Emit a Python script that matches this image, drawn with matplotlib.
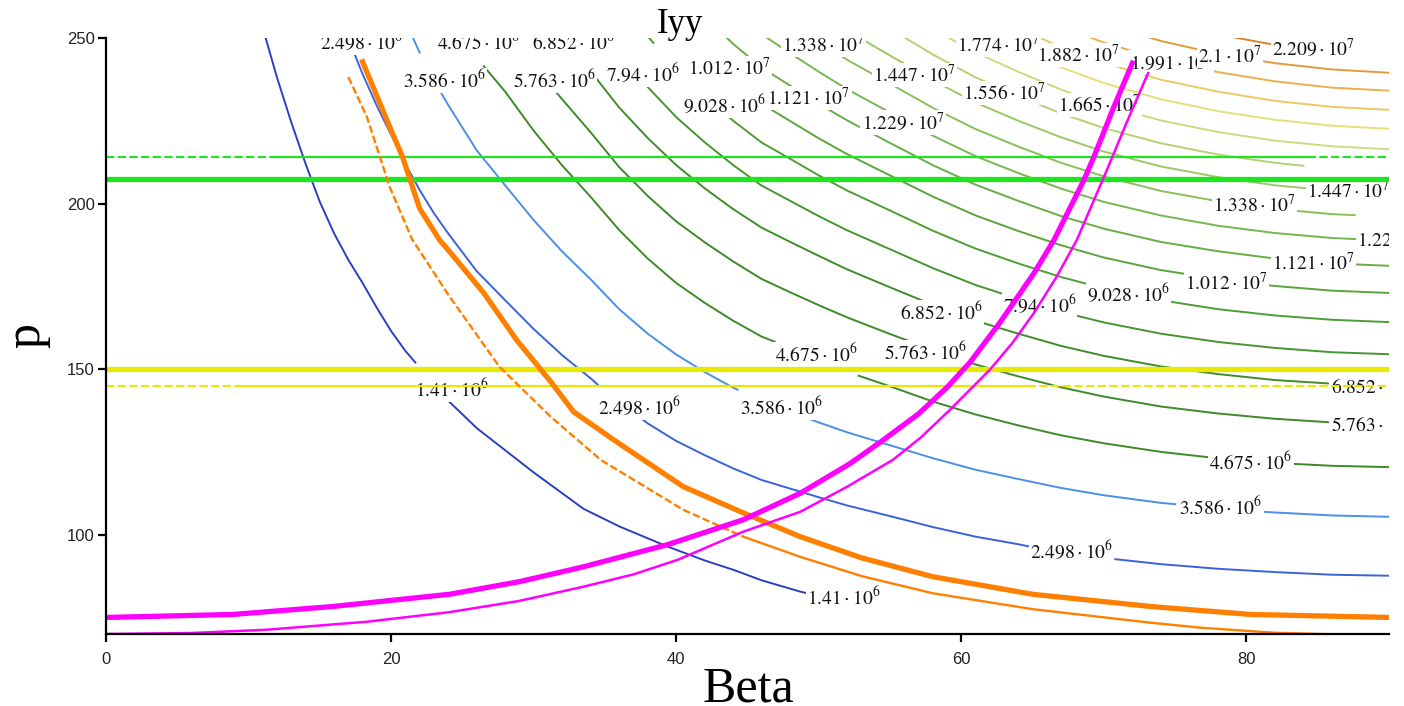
import numpy as np
import matplotlib
matplotlib.use("Agg")
import matplotlib.pyplot as plt

plt.rcParams['mathtext.fontset'] = 'stix'
nan = np.nan

# ---------------- contour levels of Iyy ----------------
levels = [1.41e6, 2.498e6, 3.586e6, 4.675e6, 5.763e6, 6.852e6, 7.94e6, 9.028e6,
          1.012e7, 1.121e7, 1.229e7, 1.338e7, 1.447e7, 1.556e7, 1.665e7, 1.774e7,
          1.882e7, 1.991e7, 2.1e7, 2.209e7]
level_colors = ['#2b3fc4', '#3a63d9', '#4b8fe6', '#3d8a27', '#3d8a27', '#3f8d2a',
                '#46952f', '#4f9d35', '#5aa53c', '#66ae45', '#76b74f', '#88c05a',
                '#9ac965', '#b2d373', '#cadd7e', '#e4df78', '#ecc862', '#ebb04c',
                '#e49a3a', '#d8862c']

# contour paths (Beta, p); nan = break in the line at a label
c01_beta = [11.0, 12.0, 13.0, 14.0, 15.0, 16.0, 17.0, 18.0, 19.0, 20.0, 21.0, 21.7, nan, 24.0, 26.0, 28.0, 30.0, 33.5, 36.0, 39.4, 42.0, 44.0, 46.0, 48.7, 49.5]
c01_p = [253, 238, 224.5, 212, 200.5, 191, 183, 176, 168.5, 161.5, 155.5, 152.0, nan, 140.5, 132.2, 125.5, 118.8, 107.8, 102.5, 96.4, 92.2, 89.4, 86.2, 82.8, 82.0]
c02_beta = [16.8, 18, 19, 20, 21, 22, 23, 24, 26, 28, 30, 32, 34, 34.5, nan, 37.5, 38, 40, 42, 44, 46, 48, 50, 52, 55, 58, 61, 64, 64.8, nan, 70.8, 74, 78, 82, 86, 90]
c02_p = [252, 239.1, 229.5, 220.8, 212, 204.1, 197.1, 191, 179.6, 170.8, 162.1, 154.2, 147.2, 145.3, nan, 135.3, 133.6, 128.3, 124, 120, 116.5, 113.9, 111.3, 108.8, 105.6, 102.3, 99.4, 97.1, 96.4, nan, 92.6, 91.1, 89.7, 88.7, 87.9, 87.6]
c03_beta = [21, 22, nan, 23.3, 24, 26, 28, 30, 32, 34, 36, 38, 40, 42, 44, 44.3, nan, 47.8, 50, 52, 55, 58, 61, 64, 67, 70, 74, 75, nan, 81.2, 82, 86, 90]
c03_p = [255.1, 245.6, nan, 235.0, 229.8, 216.1, 205.5, 195, 185.5, 177.1, 168.1, 160.7, 154.4, 149.1, 144.4, 143.8, nan, 137.3, 133.9, 130.9, 127, 123.1, 119.6, 116.8, 114.1, 111.9, 109.6, 109.2, nan, 106.9, 106.7, 105.8, 105.4]
c04_beta = [26.5, 28, 30, 32, 34, 36, 38, 40, 42, 44, 46, 46.9, nan, 52.8, 55, 58, 61, 64, 67, 70, 74, 77.3, nan, 83.2, 86, 90]
c04_p = [241.5, 233.8, 222, 211.5, 202, 192, 183.4, 176, 170, 164.6, 159.8, 158.3, nan, 148.0, 144.8, 140.2, 136.3, 133, 130, 127.6, 125, 123.4, nan, 121.4, 120.8, 120.4]
c05_beta = [31.2, 32, 34, 36, 38, 40, 42, 44, 46, 48, 50, 52, 55, 58, 61, 64, 67, 70, 74, 78, 82, 86, 90]
c05_p = [235.5, 231.5, 221.5, 211, 202.3, 194.6, 188.3, 182.5, 177.2, 173.2, 169.3, 165.6, 160.6, 155.8, 151.4, 147.8, 144.5, 141.7, 138.7, 136.6, 135, 133.9, 133.4]
c06_beta = [34.3, 36, 38, 40, 42, 44, 46, 48, 50, 52, 55, 58, 61, 64, 67, 70, 74, 78, 82, 86, 90]
c06_p = [238.3, 229, 219.8, 211.6, 204.6, 198.3, 192.7, 188.4, 184.2, 180.1, 174.7, 169.4, 164.6, 160.7, 157, 154, 150.8, 148.5, 146.7, 145.6, 145]
c07_beta = [37.6, 38, 40, 42, 44, 46, 48, 50, 52, 55, 58, 61, 64, 67, 70, 74, 78, 82, 86, 90]
c07_p = [237.3, 235.2, 226.1, 218.5, 211.6, 205.4, 200.8, 196.2, 191.9, 186.2, 180.5, 175.4, 171.2, 167.3, 164.1, 160.7, 158.2, 156.4, 155.1, 154.5]
c08_beta = [37.5, 38.4, nan, 43.3, 44, 46, 48, 50, 52, 55, 58, 61, 64, 67, 70, 74, 78, 82, 86, 90]
c08_p = [253, 248.5, nan, 227.6, 225, 218.4, 213.5, 208.5, 203.9, 197.9, 191.8, 186.4, 181.9, 177.8, 174.4, 170.8, 168.1, 166.2, 164.9, 164.2]
c09_beta = [39.5, 40, 40.8, nan, 46.2, 48, 50, 52, 55, 58, 61, 64, 67, 70, 74, 78, 82, 86, 90]
c09_p = [256, 253.4, 250.0, nan, 229.6, 224.9, 219.7, 214.9, 208.5, 202.1, 196.4, 191.7, 187.4, 183.7, 179.9, 177.2, 175.1, 173.7, 173]
c10_beta = [42, 44, 46, 48, 50, 52, 55, 58, 61, 64, 67, 70, 74, 78, 82, 86, 90]
c10_p = [256.4, 248.2, 241, 235.6, 230.1, 225.1, 218.3, 211.6, 205.7, 200.8, 196.2, 192.4, 188.4, 185.6, 183.4, 181.9, 181.2]
c11_beta = [45, 46, 48, 50, 52, 55, 58, 61, 64, 67, 70, 74, 78, 82, 86, 90]
c11_p = [255, 251.1, 245.4, 239.8, 234.5, 227.5, 220.5, 214.3, 209.2, 204.5, 200.5, 196.4, 193.3, 191.1, 189.6, 188.8]
c12_beta = [47, 48, 50, 52, 55, 58, 61, 64, 67, 70, 74, 78, 82, 86, 87.6]
c12_p = [258, 254.8, 248.9, 243.4, 236.2, 228.9, 222.5, 217.2, 212.3, 208.2, 203.8, 200.7, 198.4, 196.8, 196.5]
c13_beta = [50, 52, 55, 58, 61, 64, 67, 70, 74, 78, 82, 86, 90]
c13_p = [257.9, 252.2, 244.7, 237.2, 230.5, 225, 220, 215.7, 211.2, 208, 205.5, 203.9, 203.1]
c14_beta = [53, 55, 58, 61, 64, 67, 70, 74, 78, 82, 84]
c14_p = [258, 252.8, 245, 238.1, 232.5, 227.2, 222.8, 218.2, 214.8, 212.3, 211.4]
c15_beta = [56, 58, 61, 64, 67, 70, 74, 78, 82, 86, 90]
c15_p = [257.5, 252.7, 245.6, 239.8, 234.4, 229.8, 225.1, 221.6, 219, 217.3, 216.4]
c16_beta = [59, 61, 64, 67, 70, 74, 78, 82, 86, 90]
c16_p = [257.5, 252.7, 246.6, 241.1, 236.4, 231.5, 227.9, 225.3, 223.5, 222.6]
c17_beta = [62, 64, 67, 70, 74, 78, 82, 86, 90]
c17_p = [256.5, 253, 247.2, 242.5, 237.4, 233.8, 231, 229.2, 228.3]
c18_beta = [65, 67, 70, 74, 78, 82, 86, 90]
c18_p = [257, 253.5, 248.6, 243.5, 239.7, 236.9, 235, 234.1]
c19_beta = [68, 70, 74, 78, 82, 86, 90]
c19_p = [257.5, 254.3, 249.1, 245.2, 242.4, 240.5, 239.5]
c20_beta = [79, 82, 86]
c20_p = [250.3, 247.9, 246]

# contour labels (level, Beta of left edge, p of baseline)
label_level = [2.498e6, 4.675e6, 6.852e6, 1.338e7, 1.774e7, 1.882e7, 1.991e7, 2.1e7, 2.209e7,
               3.586e6, 5.763e6, 7.94e6, 1.012e7, 9.028e6, 1.121e7, 1.447e7, 1.229e7, 1.556e7, 1.665e7,
               1.41e6, 2.498e6, 3.586e6, 4.675e6, 5.763e6, 6.852e6, 7.94e6, 9.028e6, 1.012e7, 1.121e7,
               1.229e7, 1.338e7, 1.447e7,
               6.852e6, 5.763e6, 4.675e6, 3.586e6, 2.498e6, 1.41e6]
label_beta = [15.0, 23.2, 29.9, 47.4, 59.7, 65.3, 71.8, 76.6, 81.8,
              20.8, 28.55, 35.1, 40.8, 40.5, 46.4, 53.8, 53.0, 60.1, 66.8,
              21.7, 34.5, 44.5, 46.9, 54.6, 55.7, 62.9, 68.8, 75.7, 81.8,
              87.75, 77.65, 84.25,
              85.9, 85.9, 77.4, 75.3, 64.8, 49.2]
label_p = [246.4, 246.4, 246.4, 245.8, 245.8, 242.8, 240.3, 242.5, 244.6,
           234.9, 234.9, 236.7, 238.8, 227.4, 229.8, 236.7, 222.2, 231.3, 227.7,
           141.7, 136.2, 136.2, 152.2, 152.8, 164.9, 167.0, 170.3, 173.9, 180.0,
           186.9, 197.5, 201.7,
           142.6, 131.1, 119.6, 106.0, 92.8, 78.9]

# ---------------- overlay curves ----------------
thick_orange_beta = [18.0, 19.9, 20.8, 21.5, 22.0, 23.4, 24.1, 26.5, 28.8, 31.2, 32.8, 35.9, 37.7, 40.5, 44.7, 48.7, 53.0, 58.0, 65.0, 73.3, 80.3, 90.0]
thick_orange_p = [242.8, 223.2, 214.1, 205.0, 198.5, 189.0, 185.5, 173.0, 158.8, 146.2, 137.1, 127.8, 122.6, 114.5, 106.6, 99.4, 93.0, 87.3, 82.0, 78.3, 75.9, 75.0]
thin_orange_dash_beta = [17.0, 18.3, 19.9, 21.5, 24.1, 27.6, 31.2, 34.7, 40.5, 44.7]
thin_orange_dash_p = [238.2, 226.2, 205.0, 189.0, 171.9, 150.7, 135.6, 122.6, 107.5, 99.4]
thin_orange_solid_beta = [44.7, 48.7, 53.0, 58.0, 65.0, 73.3, 76.8, 81.9, 86.0, 90.0]
thin_orange_solid_p = [99.4, 93.3, 87.5, 82.3, 77.5, 73.4, 71.9, 70.4, 69.9, 69.6]

thick_magenta_beta = [0.0, 8.9, 15.9, 24.1, 29.0, 33.5, 39.4, 44.7, 48.7, 52.2, 54.5, 57.0, 59.0, 60.6, 62.7, 65.1, 66.5, 68.6, 69.3, 70.7, 72.0]
thick_magenta_p = [75.0, 75.9, 78.3, 82.0, 85.8, 90.3, 97.0, 104.5, 112.5, 121.5, 128.5, 136.5, 144.5, 152.0, 164.0, 179.0, 189.0, 207.1, 214.1, 229.2, 242.4]
thin_magenta_beta = [0.0, 6.0, 11.3, 18.3, 24.1, 29.0, 33.5, 37.0, 40.1, 44.7, 48.7, 52.0, 55.2, 57.2, 59.2, 62.0, 63.6, 65.1, 66.7, 68.1, 70.1, 71.6, 73.1]
thin_magenta_p = [70.0, 70.3, 71.3, 73.7, 76.6, 80.0, 84.3, 88.0, 92.4, 100.9, 106.9, 114.5, 122.6, 129.5, 137.7, 149.8, 158.0, 167.0, 178.0, 189.0, 209.0, 224.5, 239.4]

# horizontal reference lines
green_thick_p = 207.5
green_thin_p = 214.2
green_solid_span = [11.5, 84.5]
yellow_thick_p = 150.0
yellow_thin_p = 145.0
yellow_solid_span = [9.2, 65.0]

contour_paths = [(c01_beta, c01_p), (c02_beta, c02_p), (c03_beta, c03_p), (c04_beta, c04_p),
                 (c05_beta, c05_p), (c06_beta, c06_p), (c07_beta, c07_p), (c08_beta, c08_p),
                 (c09_beta, c09_p), (c10_beta, c10_p), (c11_beta, c11_p), (c12_beta, c12_p),
                 (c13_beta, c13_p), (c14_beta, c14_p), (c15_beta, c15_p), (c16_beta, c16_p),
                 (c17_beta, c17_p), (c18_beta, c18_p), (c19_beta, c19_p), (c20_beta, c20_p)]

# ---------------- figure ----------------
fig = plt.figure(figsize=(14.04, 7.06), dpi=100)
ax = fig.add_axes([106 / 1404, 72 / 706, 1283 / 1404, 596 / 706])
ax.set_xlim(0, 90)
ax.set_ylim(70, 250)

for (bx, py), col in zip(contour_paths, level_colors):
    ax.plot(bx, py, color=col, lw=1.4, zorder=2, solid_joinstyle='round')

for lev, b, p in zip(label_level, label_beta, label_p):
    e = int(np.floor(np.log10(lev)))
    m = f"{lev / 10 ** e:.4g}"
    ax.text(b, p, rf"${m}\cdot10^{{{e}}}$", ha='left', va='baseline', fontsize=14,
            color='#111111', zorder=3, clip_on=True,
            bbox=dict(boxstyle='square,pad=0.06', fc='white', ec='none'))

# horizontal lines
ax.axhline(green_thin_p, color='#1ee61e', lw=1.5, ls=(0, (4, 1.6)), zorder=4)
ax.hlines(green_thin_p, green_solid_span[0], green_solid_span[1], color='#1ee61e', lw=1.5, zorder=4)
ax.axhline(green_thick_p, color='#1ee61e', lw=3.8, zorder=4)
ax.axhline(yellow_thin_p, color='#e8e800', lw=1.5, ls=(0, (4, 1.6)), zorder=4)
ax.hlines(yellow_thin_p, yellow_solid_span[0], yellow_solid_span[1], color='#e8e800', lw=1.5, zorder=4)
ax.axhline(yellow_thick_p, color='#e8e800', lw=3.8, zorder=4)

# orange curves
ax.plot(thick_orange_beta, thick_orange_p, color='#ff8000', lw=3.8, zorder=5, solid_joinstyle='round')
ax.plot(thin_orange_dash_beta, thin_orange_dash_p, color='#ff8000', lw=1.7, ls=(0, (3.2, 1.3)), zorder=5)
ax.plot(thin_orange_solid_beta, thin_orange_solid_p, color='#ff8000', lw=1.7, zorder=5)

# magenta curves
ax.plot(thick_magenta_beta, thick_magenta_p, color='#ff00ff', lw=3.8, zorder=6, solid_joinstyle='round')
ax.plot(thin_magenta_beta, thin_magenta_p, color='#ff00ff', lw=1.8, zorder=6, solid_joinstyle='round')

# axes styling
for s in ['top', 'right']:
    ax.spines[s].set_visible(False)
for s in ['left', 'bottom']:
    ax.spines[s].set_linewidth(1.6)
    ax.spines[s].set_color('black')
    ax.spines[s].set_zorder(7)
ax.set_xticks([0, 20, 40, 60, 80])
ax.set_yticks([100, 150, 200, 250])
ax.tick_params(direction='out', length=6, width=1.6, labelsize=12, colors='black')
ax.tick_params(axis='x', pad=7)
ax.tick_params(axis='y', pad=2)
for lbl in ax.get_xticklabels() + ax.get_yticklabels():
    lbl.set_fontfamily('Liberation Sans')
    lbl.set_color('#222222')

fig.text(680 / 1404, 1 - 33 / 706, 'Iyy', ha='center', va='baseline', fontsize=25,
         family='Liberation Serif')
fig.text(748 / 1404, 1 - 701 / 706, 'Beta', ha='center', va='baseline', fontsize=36,
         family='Liberation Serif')
fig.text(27 / 1404, 1 - 335 / 706, 'p', rotation=90, ha='center', va='center', fontsize=36,
         family='Liberation Serif')

fig.savefig('out.png', dpi=100)
